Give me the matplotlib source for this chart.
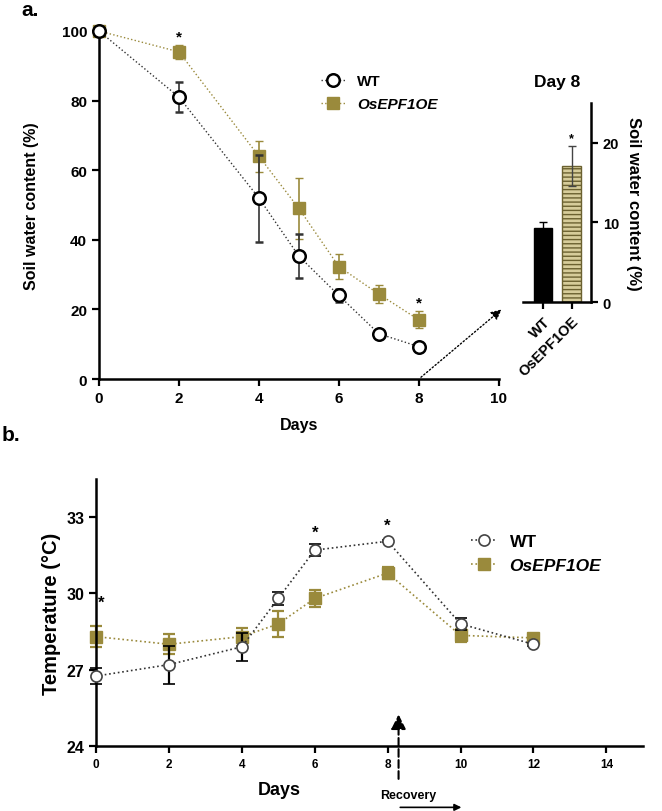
import matplotlib
matplotlib.use("Agg")
import matplotlib.pyplot as plt

plt.rcParams['font.family'] = ['Liberation Sans', 'DejaVu Sans']
plt.rcParams['font.weight'] = 'bold'
plt.rcParams['axes.labelweight'] = 'bold'
plt.rcParams['hatch.linewidth'] = 1.0

# Panel a: soil water content
dias_a = [0, 2, 4, 5, 6, 7, 8]
wt_a = [100, 81, 52, 35.3, 24, 13, 9.3]
wt_a_err = [0, 4.3, 12.5, 6.3, 2.0, 0.5, 0.5]
oe_a = [100, 94, 64, 49, 32.3, 24.4, 17]
oe_a_err = [0, 2.0, 4.5, 8.7, 3.6, 2.7, 2.4]

# Inset: day 8
barras = ["WT", "OsEPF1OE"]
barras_val = [9.3, 17.1]
barras_err = [0.7, 2.5]

# Panel b: temperature
dias_b = [0, 2, 4, 5, 6, 8, 10, 12]
wt_b = [26.75, 27.2, 27.9, 29.8, 31.7, 32.05, 28.8, 28.0]
wt_b_err = [0.3, 0.75, 0.55, 0.25, 0.25, 0.05, 0.25, 0.05]
oe_b = [28.3, 28.0, 28.3, 28.8, 29.8, 30.8, 28.35, 28.25]
oe_b_err = [0.4, 0.4, 0.35, 0.5, 0.35, 0.25, 0.25, 0.1]

oro = "#9a8a3c"
gris = "#333333"

fig = plt.figure(figsize=(6.62, 8.12), dpi=100)

def estilo(ax, tam):
    for s in ['top', 'right']:
        ax.spines[s].set_visible(False)
    for s in ['left', 'bottom']:
        ax.spines[s].set_linewidth(1.8)
    ax.tick_params(width=1.6, length=5, labelsize=tam)
    for lab in ax.get_xticklabels() + ax.get_yticklabels():
        lab.set_fontweight('bold')

# ---- panel a ----
ax1 = fig.add_axes([0.1495, 0.532, 0.604, 0.4286])
h1 = ax1.errorbar(dias_a, wt_a, yerr=wt_a_err, color=gris, ls=':', lw=1, marker='o', ms=9,
                  mfc='white', mec='black', mew=1.8, ecolor=gris, elinewidth=1.2, capsize=3,
                  label="WT", clip_on=False, zorder=3)
h2 = ax1.errorbar(dias_a, oe_a, yerr=oe_a_err, color=oro, ls=':', lw=1, marker='s', ms=8,
                  mfc=oro, mec=oro, ecolor=oro, elinewidth=1.2, capsize=3,
                  label="OsEPF1OE", clip_on=False, zorder=2)
ax1.set_xlim(0, 10)
ax1.set_ylim(0, 100)
ax1.set_xticks([0, 2, 4, 6, 8, 10])
ax1.set_yticks([0, 20, 40, 60, 80, 100])
ax1.set_xlabel("Days", fontsize=11.5, labelpad=9)
ax1.set_ylabel("Soil water content (%)", fontsize=11.5, labelpad=16)
estilo(ax1, 11)
for d, v, e in [(2, 94, 2.0), (8, 17, 2.4)]:
    ax1.text(d, v + e + 0.5, "*", ha='center', va='bottom', fontsize=11)
leg = ax1.legend(handles=[h1[0], h2[0]], labels=["WT", "OsEPF1OE"], loc='upper left',
                 bbox_to_anchor=(0.52, 0.915), frameon=False, fontsize=11,
                 handlelength=1.6, labelspacing=0.6)
for t in leg.get_texts():
    t.set_fontweight('bold')
leg.get_texts()[1].set_fontstyle('italic')
ax1.annotate("", xy=(10.12, 20.5), xytext=(8, 0),
             arrowprops=dict(arrowstyle='-|>', ls=':', color='black', lw=1, mutation_scale=15),
             annotation_clip=False)

# ---- inset ----
ax2 = fig.add_axes([0.790, 0.6268, 0.1027, 0.245])
ax2.bar([0], barras_val[:1], width=0.65, color='black', edgecolor='black',
        yerr=barras_err[:1], ecolor='black', capsize=3, error_kw=dict(elinewidth=1))
ax2.bar([1], barras_val[1:], width=0.65, color='#d6cc9a', edgecolor='#6b6130', hatch='----',
        yerr=barras_err[1:], ecolor='#444444', capsize=3, error_kw=dict(elinewidth=1))
ax2.text(1, barras_val[1] + barras_err[1] + 0.2, "*", ha='center', va='bottom', fontsize=9)
ax2.set_xlim(-0.7, 1.68)
ax2.set_ylim(0, 25)
ax2.set_yticks([0, 10, 20])
ax2.set_xticks([0, 1])
ax2.set_xticklabels(barras, rotation=45, ha='right', rotation_mode='anchor')
ax2.spines['left'].set_visible(False)
ax2.spines['top'].set_visible(False)
ax2.spines['right'].set_linewidth(1.8)
ax2.spines['bottom'].set_linewidth(1.8)
ax2.yaxis.tick_right()
ax2.yaxis.set_label_position('right')
ax2.tick_params(width=1.6, length=5, labelsize=10.5)
for lab in ax2.get_xticklabels() + ax2.get_yticklabels():
    lab.set_fontweight('bold')
ax2.set_ylabel("Soil water content (%)", fontsize=12, rotation=-90, labelpad=16)
ax2.set_title("Day 8", fontsize=12.5, fontweight='bold', pad=12)

# ---- panel b ----
ax3 = fig.add_axes([0.145, 0.080, 0.826, 0.329])
g1 = ax3.errorbar(dias_b, wt_b, yerr=wt_b_err, color=gris, ls=':', lw=1.2, marker='o', ms=8,
                  mfc='white', mec='#444444', mew=1.2, ecolor='black', elinewidth=1.6, capsize=4,
                  capthick=1.6, label="WT", clip_on=False, zorder=3)
g2 = ax3.errorbar(dias_b, oe_b, yerr=oe_b_err, color=oro, ls=':', lw=1.2, marker='s', ms=8,
                  mfc=oro, mec=oro, ecolor=oro, elinewidth=1.6, capsize=4, capthick=1.6,
                  label="OsEPF1OE", clip_on=False, zorder=2)
ax3.set_xlim(0, 15)
ax3.set_ylim(24, 34.5)
ax3.set_xticks([0, 2, 4, 6, 8, 10, 12, 14])
ax3.set_yticks([24, 27, 30, 33])
ax3.set_xlabel("Days", fontsize=13)
ax3.xaxis.set_label_coords(0.336, -0.13)
ax3.set_ylabel("Temperature (°C)", fontsize=14.5, labelpad=4)
estilo(ax3, 8.5)
for lab in ax3.get_yticklabels():
    lab.set_fontsize(11.5)
for d, v in [(0.15, 29.35), (6, 32.1), (8, 32.4)]:
    ax3.text(d, v, "*", ha='center', va='bottom', fontsize=12)
leg2 = ax3.legend(handles=[g1[0], g2[0]], labels=["WT", "OsEPF1OE"], loc='upper left',
                  bbox_to_anchor=(0.658, 0.852), frameon=False, fontsize=12.5,
                  handlelength=1.4, labelspacing=0.5)
for t in leg2.get_texts():
    t.set_fontweight('bold')
leg2.get_texts()[1].set_fontstyle('italic')
ax3.annotate("", xy=(8.3, 25.35), xytext=(8.3, 22.6),
             arrowprops=dict(arrowstyle='-|>', ls='--', color='black', lw=1.5, mutation_scale=22),
             annotation_clip=False)
ax3.text(7.8, 22.06, "Recovery", ha='left', va='center', fontsize=9)
ax3.annotate("", xy=(10.1, 21.59), xytext=(8.27, 21.59),
             arrowprops=dict(arrowstyle='-|>', color='black', lw=1.2, mutation_scale=10),
             annotation_clip=False)

fig.text(0.033, 0.999, "a.", fontsize=15, fontweight='bold', va='top')
fig.text(0.002, 0.475, "b.", fontsize=15, fontweight='bold', va='top')

fig.savefig("out.png", dpi=100)
